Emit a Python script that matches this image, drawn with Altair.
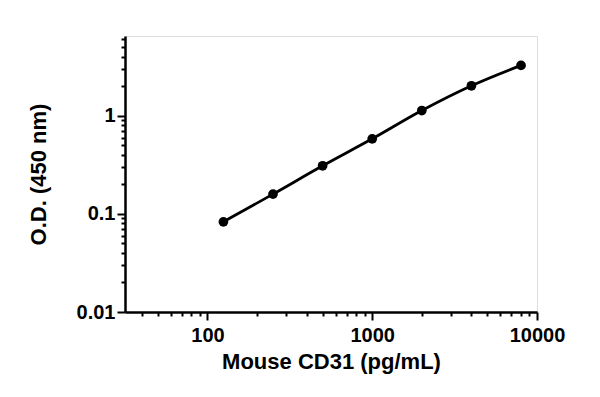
import altair as alt
import pandas as pd

# Data
concentration = [125, 250, 500, 1000, 2000, 4000, 8000]
od450 = [0.083, 0.159, 0.309, 0.582, 1.13, 2.02, 3.26]

# Axis ticks
x_ticks = [40, 50, 60, 70, 80, 90,
           100, 200, 300, 400, 500, 600, 700, 800, 900,
           1000, 2000, 3000, 4000, 5000, 6000, 7000, 8000, 9000,
           10000]
x_major = [100, 1000, 10000]
y_ticks = [0.01, 0.02, 0.03, 0.04, 0.05, 0.06, 0.07, 0.08, 0.09,
           0.1, 0.2, 0.3, 0.4, 0.5, 0.6, 0.7, 0.8, 0.9,
           1, 2, 3, 4, 5, 6]
y_major = [0.01, 0.1, 1]

df = pd.DataFrame({"conc": concentration, "od": od450})


def major_test(vals):
    return "indexof([" + ",".join(str(v) for v in vals) + "], datum.value) >= 0"


def make_axis(title, major, ticks, label_pad, title_pad):
    t = major_test(major)
    return alt.Axis(
        title=title,
        values=ticks,
        labelExpr=f"{t} ? format(datum.value, '~g') : ''",
        tickSize={"condition": {"test": t, "value": 8}, "value": 4},
        grid=False,
        domainColor="black",
        domainWidth=2.5,
        tickColor="black",
        tickWidth=2,
        labelFont="Liberation Sans",
        labelFontWeight="bold",
        labelFontSize=20,
        labelColor="black",
        labelPadding=label_pad,
        labelOverlap=False,
        labelFlush=False,
        titleFont="Liberation Sans",
        titleFontWeight="bold",
        titleFontSize=22,
        titleColor="black",
        titlePadding=title_pad,
    )


x_enc = alt.X(
    "conc:Q",
    scale=alt.Scale(type="log", domain=[31.6, 10000], nice=False),
    axis=make_axis("Mouse CD31 (pg/mL)", x_major, x_ticks, 5, 6),
)
y_enc = alt.Y(
    "od:Q",
    scale=alt.Scale(type="log", domain=[0.01, 6.5], nice=False),
    axis=make_axis("O.D. (450 nm)", y_major, y_ticks, 2, 26),
)

base = alt.Chart(df).encode(x=x_enc, y=y_enc)
line = base.mark_line(color="black", strokeWidth=2.8, interpolate="monotone")
points = base.mark_circle(color="black", opacity=1, size=95)

chart = (
    alt.layer(line, points)
    .properties(
        width=412,
        height=276,
        autosize=alt.AutoSizeParams(type="none"),
        padding={"left": 117, "top": 28, "right": 50, "bottom": 75},
    )
    .configure_view(stroke=None)
    .configure(background="white")
)

chart.save("out.html", embed_options={"renderer": "svg", "actions": False})
